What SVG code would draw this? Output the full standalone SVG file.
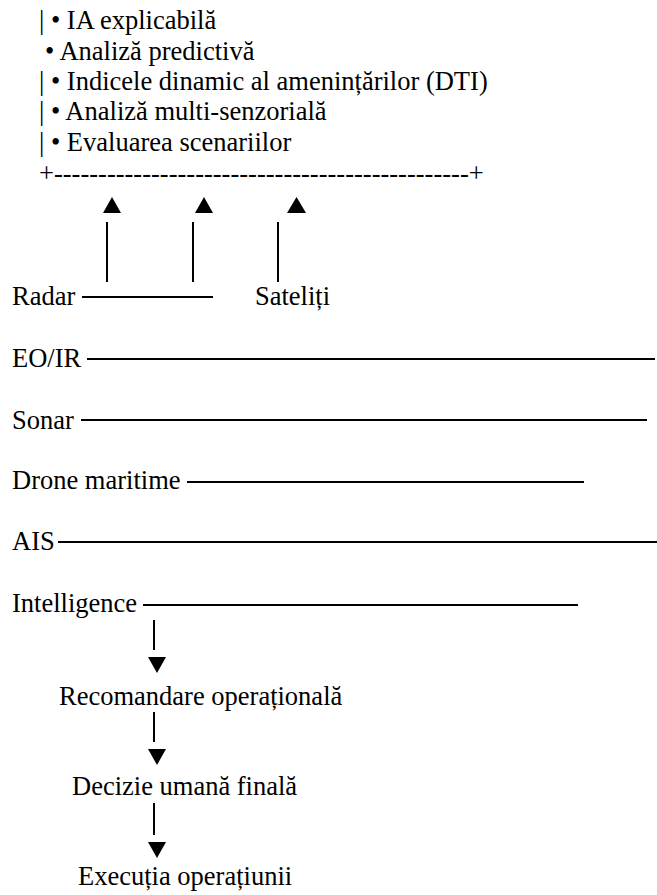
<svg xmlns="http://www.w3.org/2000/svg" width="657" height="895" viewBox="0 0 657 895">
<style>
text{font-family:"Liberation Serif","Times New Roman",serif;font-size:26.5px;fill:#000}
.ln{stroke:#000;stroke-width:2;fill:none}
.ar{fill:#000;stroke:none}
</style>
<rect width="657" height="895" fill="#fff"/>
<g id="node-ai-box">
<text x="39" y="29">| • IA explicabilă</text>
<text x="45" y="60">• Analiză predictivă</text>
<text x="39" y="90">| • Indicele dinamic al amenințărilor (DTI)</text>
<text x="39" y="120">| • Analiză multi-senzorială</text>
<text x="39" y="151">| • Evaluarea scenariilor</text>
<text x="39" y="182">+-----------------------------------------------+</text>
</g>
<g id="node-radar"><text x="12" y="305">Radar</text></g>
<g id="node-sateliti"><text x="255" y="305">Sateliți</text></g>
<g id="node-eoir"><text x="12" y="367">EO/IR</text></g>
<g id="node-sonar"><text x="12" y="429">Sonar</text></g>
<g id="node-drone"><text x="12" y="489">Drone maritime</text></g>
<g id="node-ais"><text x="12" y="550">AIS</text></g>
<g id="node-intelligence"><text x="12" y="612">Intelligence</text></g>
<g id="node-recomandare"><text x="59" y="705">Recomandare operațională</text></g>
<g id="node-decizie"><text x="72" y="795">Decizie umană finală</text></g>
<g id="node-executie"><text x="78" y="885">Execuția operațiunii</text></g>
<g id="connectors">
<line class="ln" x1="107" y1="222" x2="107" y2="282"/>
<line class="ln" x1="193" y1="222" x2="193" y2="282"/>
<line class="ln" x1="278" y1="222" x2="278" y2="282"/>
<path class="ar" d="M103,213 L112,197 L121,213 Z"/>
<path class="ar" d="M195,213 L204,197 L213,213 Z"/>
<path class="ar" d="M287,213 L296.5,197 L306,213 Z"/>
<line class="ln" x1="82" y1="297" x2="213" y2="297"/>
<line class="ln" x1="87" y1="359" x2="655" y2="359"/>
<line class="ln" x1="81" y1="420" x2="647" y2="420"/>
<line class="ln" x1="187" y1="482" x2="584" y2="482"/>
<line class="ln" x1="58" y1="542" x2="657" y2="542"/>
<line class="ln" x1="143" y1="605" x2="578" y2="605"/>
<line class="ln" x1="154" y1="620" x2="154" y2="650"/>
<path class="ar" d="M148,657 L166,657 L157,673 Z"/>
<line class="ln" x1="154" y1="712" x2="154" y2="742"/>
<path class="ar" d="M148,749 L166,749 L157,765 Z"/>
<line class="ln" x1="154" y1="803" x2="154" y2="835"/>
<path class="ar" d="M148,842 L166,842 L157,858 Z"/>
</g>
</svg>
